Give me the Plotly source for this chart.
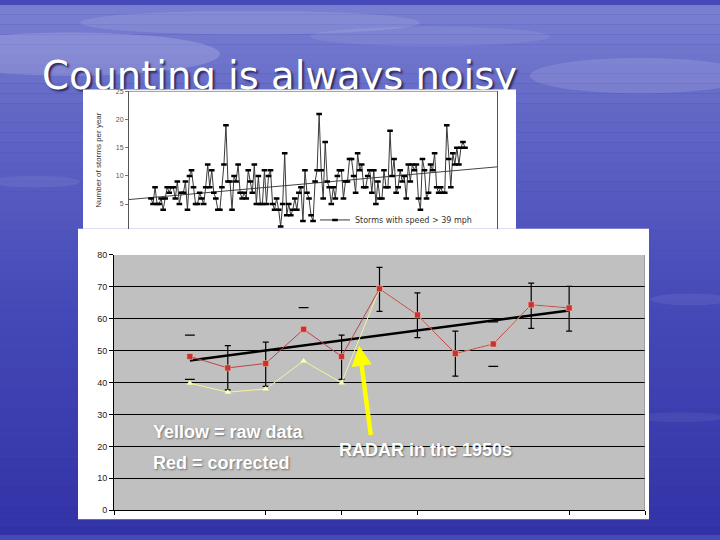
import plotly.graph_objects as go

# ---------------- data ----------------
title_text = "Counting is always noisy"

# top chart: storms per year (speed > 39 mph)
storms = [6, 5, 8, 5, 5, 6, 4, 6, 8, 7, 8, 8, 6, 9, 5, 7, 7, 9, 4, 10,
          11, 8, 5, 5, 7, 6, 5, 8, 12, 8, 11, 7, 6, 4, 4, 8, 12, 19, 9, 9,
          4, 10, 9, 12, 7, 6, 7, 6, 11, 9, 7, 12, 5, 10, 5, 5, 11, 5, 10, 11,
          5, 4, 6, 4, 1, 5, 14, 3, 5, 3, 4, 6, 4, 7, 8, 2, 11, 7, 6, 3,
          2, 9, 11, 21, 11, 6, 16, 9, 8, 5, 8, 6, 10, 11, 11, 6, 9, 9, 13, 13,
          10, 7, 14, 11, 12, 8, 8, 10, 11, 7, 11, 5, 9, 6, 6, 11, 8, 8, 18, 10,
          13, 7, 8, 11, 9, 10, 6, 12, 9, 12, 11, 12, 6, 4, 13, 11, 6, 7, 12, 11,
          14, 8, 7, 8, 7, 7, 19, 13, 8, 14, 12, 15, 12, 15, 16, 15]
first_year = 1851
years = [first_year + i for i in range(len(storms))]
top_trend = [5.8, 11.6]
top_yticks = [5, 10, 15, 20, 25]
top_series_name = "Storms with speed > 39 mph"
top_ytitle = "Number of storms per year"

# bottom chart
cat_pos = [2, 3, 4, 5, 6, 7, 8, 9, 10, 11, 12]
red_corrected = [48.2, 44.6, 46.0, 56.7, 48.2, 69.4, 61.2, 49.1, 52.1, 64.4, 63.4]
yellow_raw = [39.8, 37.0, 38.0, 46.8, 39.9, 69.4, 61.2, 49.1, 52.1, 64.4, 63.4]
err_top = [54.9, 51.6, 52.7, 63.5, 54.9, 76.1, 68.1, 56.1, 59.0, 71.2, 70.2]
err_bot = [41.0, 37.7, 38.8, None, 41.0, 62.3, 54.1, 42.0, 45.1, 57.0, 56.1]
err_stem = [False, True, True, False, True, True, True, True, False, True, True]
bottom_trend = [46.9, 62.6]
bottom_yticks = [0, 10, 20, 30, 40, 50, 60, 70, 80]
bottom_xticks = [0, 4, 6, 8, 12, 14]
radar_point = (6.46, 51.6)
label_yellow = "Yellow = raw data"
label_red = "Red = corrected"
label_radar = "RADAR in the 1950s"

# ---------------- helpers ----------------
W, H = 720, 540
def px(x):
    return x / W
def py(y):
    return 1 - y / H

bx_range = [0, 14]
by_range = [0, 80]

fig = go.Figure()
shapes = []

# background gradient bands
stops = [(0, (122, 128, 208)), (120, (96, 101, 197)), (300, (70, 74, 184)), (540, (50, 50, 166))]
def col_at(y):
    for (y0, c0), (y1, c1) in zip(stops[:-1], stops[1:]):
        if y0 <= y <= y1:
            t = (y - y0) / (y1 - y0)
            return tuple(int(round(a + (b - a) * t)) for a, b in zip(c0, c1))
    return stops[-1][1]
band = 10
for y in range(0, H, band):
    r, g, b = col_at(y + band / 2)
    shapes.append(dict(type="rect", xref="paper", yref="paper", x0=0, x1=1,
                       y0=py(y + band), y1=py(y), fillcolor=f"rgb({r},{g},{b})",
                       line=dict(width=0), layer="below"))
# soft clouds
for cx, cy, rx, ry, op in [(70, 50, 150, 22, 0.16), (250, 18, 170, 12, 0.10),
                           (430, 32, 120, 10, 0.08), (640, 72, 110, 18, 0.12),
                           (690, 300, 40, 6, 0.07), (680, 420, 45, 5, 0.06),
                           (35, 180, 45, 6, 0.07)]:
    shapes.append(dict(type="circle", xref="paper", yref="paper",
                       x0=px(cx - rx), x1=px(cx + rx), y0=py(cy + ry), y1=py(cy - ry),
                       fillcolor=f"rgba(255,255,255,{op})", line=dict(width=0), layer="below"))
# grey plot area of bottom chart (axis-referenced -> drawn inside that subplot, under its grid)
shapes.append(dict(type="rect", xref="x3", yref="y3", x0=bx_range[0], x1=bx_range[1],
                   y0=by_range[0], y1=by_range[1],
                   fillcolor="#c0c0c0", line=dict(width=0), layer="below"))
# right border of bottom plot
shapes.append(dict(type="line", xref="x3", yref="y3", x0=bx_range[1], x1=bx_range[1],
                   y0=by_range[0], y1=by_range[1], line=dict(color="#7a7a7a", width=1)))
# top border of top plot
shapes.append(dict(type="line", xref="x2 domain", yref="y2 domain", x0=0, x1=1, y0=1, y1=1,
                   line=dict(color="#999999", width=1)))

# ---------------- slide layer (x, y in slide pixels): title under pasted chart boxes ----------------
title_font = dict(family="DejaVu Sans", size=38.5, color="white", shadow="2px 2px 2px #2a2a60")
fig.add_trace(go.Scatter(x=[42], y=[76], text=[title_text], mode="text",
                         textposition="middle right", textfont=title_font, cliponaxis=False,
                         showlegend=False, hoverinfo="skip", xaxis="x", yaxis="y"))
for (bx0, bx1, by0, by1) in [(83, 516, 86, 228), (78, 649, 228, 524)]:
    fig.add_trace(go.Scatter(x=[bx0, bx1, bx1, bx0, bx0], y=[by0, by0, by1, by1, by0],
                             mode="lines", fill="toself", fillcolor="white",
                             line=dict(width=0, color="white"), showlegend=False,
                             hoverinfo="skip", xaxis="x", yaxis="y"))

# ---------------- top chart (x2, y2) ----------------
top_l, top_r, top_t, top_b = 129, 497, 88, 228
first_px, last_px = 151, 465
spacing = (last_px - first_px) / (len(storms) - 1)
xr = [years[0] - (first_px - top_l) / spacing, years[-1] + (top_r - last_px) / spacing]
ppu = (231.5 - 88) / 25.0
yr = [(231.5 - top_b) / ppu, 25]

fig.add_trace(go.Scatter(x=xr, y=top_trend, mode="lines",
                         line=dict(color="#444444", width=1), showlegend=False,
                         hoverinfo="skip", xaxis="x2", yaxis="y2"))
fig.add_trace(go.Scatter(x=years, y=storms, mode="lines+markers", name=top_series_name,
                         line=dict(color="#3a3a3a", width=1),
                         marker=dict(symbol="line-ew", size=4, line=dict(color="black", width=2.5)),
                         xaxis="x2", yaxis="y2"))

# ---------------- bottom chart (x3, y3) ----------------
stem_x = [x for x, s in zip(cat_pos, err_stem) if s]
stem_y = [r for r, s in zip(red_corrected, err_stem) if s]
stem_up = [t - r for t, r, s in zip(err_top, red_corrected, err_stem) if s]
stem_dn = [r - b for b, r, s in zip(err_bot, red_corrected, err_stem) if s]
fig.add_trace(go.Scatter(x=stem_x, y=stem_y, mode="markers",
                         marker=dict(size=1, color="rgba(0,0,0,0)"),
                         error_y=dict(type="data", array=stem_up, arrayminus=stem_dn,
                                      color="black", thickness=1.2, width=3),
                         showlegend=False, hoverinfo="skip", xaxis="x3", yaxis="y3"))
cap_x, cap_y = [], []
for x, t, b, s in zip(cat_pos, err_top, err_bot, err_stem):
    if not s:
        for v in (t, b):
            if v is not None:
                cap_x.append(x)
                cap_y.append(v)
fig.add_trace(go.Scatter(x=cap_x, y=cap_y, mode="markers",
                         marker=dict(symbol="line-ew", size=7, line=dict(color="black", width=1.3)),
                         showlegend=False, hoverinfo="skip", xaxis="x3", yaxis="y3"))
fig.add_trace(go.Scatter(x=[cat_pos[0], cat_pos[-1]], y=bottom_trend, mode="lines",
                         line=dict(color="black", width=2.5), showlegend=False,
                         hoverinfo="skip", xaxis="x3", yaxis="y3"))
fig.add_trace(go.Scatter(x=cat_pos, y=yellow_raw, mode="lines+markers",
                         line=dict(color="#f4f3a0", width=1),
                         marker=dict(symbol="triangle-up", size=6, color="#ffffa8"),
                         showlegend=False, xaxis="x3", yaxis="y3"))
fig.add_trace(go.Scatter(x=cat_pos, y=red_corrected, mode="lines+markers",
                         line=dict(color="#b84450", width=1),
                         marker=dict(symbol="square", size=6, color="#c8303c",
                                     line=dict(color="#f0d0a0", width=0.5)),
                         showlegend=False, xaxis="x3", yaxis="y3"))

annotations = [
    dict(x=radar_point[0], y=radar_point[1], xref="x3", yref="y3", ax=12, ay=91,
         showarrow=True, arrowcolor="#ffff00", arrowwidth=4.5, arrowhead=2, arrowsize=0.9,
         text=""),
]
lab_font = dict(family="Liberation Sans", size=18, color="white", weight="bold",
                shadow="1px 1px 2px rgba(60,60,60,0.6)")
for txt, x, y in [(label_yellow, 151, 435), (label_red, 151, 467), (label_radar, 337, 453)]:
    annotations.append(dict(x=px(x), y=py(y), xref="paper", yref="paper", text=txt,
                            xanchor="left", yanchor="middle", showarrow=False, font=lab_font))

fig.update_layout(
    width=W, height=H, margin=dict(l=0, r=0, t=0, b=0),
    paper_bgcolor="rgb(70,74,184)", plot_bgcolor="rgba(0,0,0,0)",
    shapes=shapes, annotations=annotations,
    showlegend=True,
    legend=dict(x=px(315), y=py(219), xanchor="left", yanchor="middle",
                bgcolor="rgba(0,0,0,0)", borderwidth=0,
                font=dict(family="DejaVu Sans", size=8, color="#333333"),
                itemwidth=30),
    xaxis=dict(domain=[0, 1], range=[0, W], anchor="y", visible=False, fixedrange=True),
    yaxis=dict(domain=[0, 1], range=[H, 0], anchor="x", visible=False, fixedrange=True),
    xaxis2=dict(domain=[px(top_l), px(top_r)], range=xr, anchor="y2", showgrid=False,
                zeroline=False, showticklabels=False, ticks="", showline=False, fixedrange=True),
    yaxis2=dict(domain=[py(top_b), py(top_t)], range=yr, anchor="x2", tickvals=top_yticks,
                showgrid=False, zeroline=False, showline=True, linecolor="#555555",
                mirror=True, ticks="outside", ticklen=3, tickcolor="#777777",
                tickfont=dict(family="Liberation Sans", size=7, color="#555555"),
                title=dict(text=top_ytitle, standoff=12,
                           font=dict(family="Liberation Sans", size=8, color="#333333")),
                fixedrange=True),
    xaxis3=dict(domain=[px(114), px(645)], range=bx_range, anchor="y3", tickvals=bottom_xticks,
                showticklabels=False, ticks="outside", ticklen=4, tickcolor="black",
                showgrid=False, zeroline=False, showline=True, linecolor="black",
                linewidth=1, fixedrange=True),
    yaxis3=dict(domain=[py(514.7), py(254.7)], range=by_range, anchor="x3",
                tickvals=bottom_yticks,
                showgrid=True, gridcolor="black", gridwidth=1, zeroline=False,
                showline=True, linecolor="black", ticks="outside", ticklen=4,
                tickcolor="black",
                tickfont=dict(family="Liberation Sans Narrow, Liberation Sans", size=9, color="#222222"),
                fixedrange=True),
)

fig.write_html("out.html", config={"displayModeBar": False},
               post_script="document.body.style.margin='0';")
